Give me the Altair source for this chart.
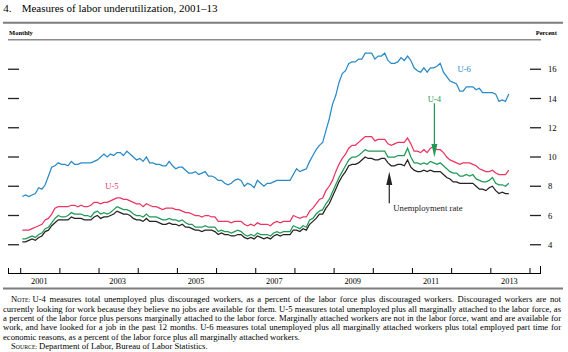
import altair as alt
import pandas as pd

# ---------------- data (monthly, Jan 2001 - Jun 2013) ----------------
u3 = [4.2, 4.2, 4.3, 4.4, 4.3, 4.5, 4.6, 4.9, 5.0, 5.3, 5.5, 5.7,
      5.7, 5.7, 5.7, 5.9, 5.8, 5.8, 5.8, 5.7, 5.7, 5.7, 5.9, 6.0,
      5.8, 5.9, 5.9, 6.0, 6.1, 6.3, 6.2, 6.1, 6.1, 6.0, 5.8, 5.7,
      5.7, 5.6, 5.8, 5.6, 5.6, 5.6, 5.5, 5.4, 5.4, 5.5, 5.4, 5.4,
      5.3, 5.4, 5.2, 5.2, 5.1, 5.0, 5.0, 4.9, 5.0, 5.0, 5.0, 4.9,
      4.7, 4.8, 4.7, 4.7, 4.6, 4.6, 4.7, 4.7, 4.5, 4.4, 4.5, 4.4,
      4.6, 4.5, 4.4, 4.5, 4.4, 4.6, 4.7, 4.6, 4.7, 4.7, 4.7, 5.0,
      5.0, 4.9, 5.1, 5.0, 5.4, 5.6, 5.8, 6.1, 6.1, 6.5, 6.8, 7.3,
      7.8, 8.3, 8.7, 9.0, 9.4, 9.5, 9.5, 9.6, 9.8, 10.0, 9.9, 9.9,
      9.8, 9.8, 9.9, 9.9, 9.6, 9.4, 9.4, 9.5, 9.5, 9.4, 9.8, 9.3,
      9.1, 9.0, 9.0, 9.1, 9.0, 9.1, 9.0, 9.0, 9.0, 8.8, 8.6, 8.5,
      8.3, 8.3, 8.2, 8.2, 8.2, 8.2, 8.2, 8.0, 7.8, 7.8, 7.7, 7.9,
      8.0, 7.7, 7.5, 7.6, 7.5, 7.5]
u4 = [4.4, 4.4, 4.5, 4.6, 4.5, 4.7, 4.8, 5.1, 5.2, 5.5, 5.8, 6.0,
      5.9, 5.9, 6.0, 6.2, 6.1, 6.1, 6.1, 6.0, 6.0, 5.9, 6.2, 6.3,
      6.1, 6.2, 6.1, 6.2, 6.4, 6.6, 6.5, 6.4, 6.4, 6.3, 6.1, 6.0,
      6.0, 5.9, 6.1, 5.9, 5.9, 5.9, 5.8, 5.7, 5.7, 5.8, 5.7, 5.7,
      5.6, 5.7, 5.5, 5.4, 5.4, 5.2, 5.2, 5.2, 5.3, 5.2, 5.2, 5.2,
      4.9, 5.0, 4.9, 4.9, 4.8, 4.9, 5.0, 4.9, 4.7, 4.6, 4.7, 4.6,
      4.8, 4.7, 4.7, 4.7, 4.6, 4.8, 4.9, 4.8, 4.9, 4.9, 4.9, 5.3,
      5.2, 5.1, 5.3, 5.2, 5.7, 5.8, 6.1, 6.3, 6.4, 6.8, 7.1, 7.6,
      8.1, 8.6, 9.0, 9.4, 9.8, 10.0, 10.0, 10.1, 10.3, 10.5, 10.4, 10.4,
      10.4, 10.4, 10.4, 10.4, 10.0, 10.0, 10.0, 10.1, 10.1, 10.1, 10.6, 10.0,
      9.6, 9.6, 9.5, 9.6, 9.5, 9.7, 9.6, 9.5, 9.6, 9.4, 9.2, 9.0,
      8.9, 8.9, 8.7, 8.7, 8.8, 8.7, 8.8, 8.5, 8.4, 8.3, 8.3, 8.4,
      8.6, 8.2, 8.1, 8.1, 8.0, 8.2]
u5 = [5.0, 5.0, 5.0, 5.1, 5.2, 5.3, 5.4, 5.7, 5.8, 6.1, 6.5, 6.6,
      6.6, 6.6, 6.6, 6.7, 6.7, 6.6, 6.7, 6.6, 6.6, 6.7, 6.9, 6.9,
      6.8, 6.9, 6.9, 7.0, 7.1, 7.2, 7.2, 7.1, 7.1, 7.0, 6.9, 6.8,
      6.8, 6.6, 6.8, 6.7, 6.6, 6.6, 6.5, 6.4, 6.5, 6.5, 6.5, 6.4,
      6.4, 6.3, 6.2, 6.2, 6.1, 6.0, 6.0, 5.9, 6.0, 6.0, 5.9, 5.9,
      5.6, 5.6, 5.6, 5.6, 5.5, 5.6, 5.6, 5.6, 5.4, 5.3, 5.4, 5.3,
      5.5, 5.4, 5.4, 5.4, 5.3, 5.5, 5.6, 5.5, 5.6, 5.6, 5.6, 6.0,
      5.9, 5.8, 5.9, 5.9, 6.3, 6.5, 6.8, 7.1, 7.2, 7.7, 8.0, 8.4,
      9.0, 9.5, 9.9, 10.2, 10.6, 10.8, 10.8, 11.0, 11.2, 11.4, 11.4, 11.4,
      11.1, 11.2, 11.2, 11.2, 10.9, 10.8, 10.9, 11.0, 11.0, 11.0, 11.3, 10.9,
      10.4, 10.4, 10.3, 10.5, 10.3, 10.6, 10.7, 10.5, 10.5, 10.3, 10.0, 9.8,
      9.7, 9.6, 9.5, 9.6, 9.6, 9.6, 9.5, 9.4, 9.2, 9.1, 9.0, 9.0,
      9.1, 8.9, 8.8, 8.8, 8.8, 9.1]
u6 = [7.3, 7.4, 7.3, 7.4, 7.5, 7.9, 7.8, 8.1, 8.7, 9.3, 9.4, 9.6,
      9.5, 9.5, 9.4, 9.7, 9.5, 9.5, 9.6, 9.6, 9.6, 9.6, 9.7, 9.8,
      10.0, 10.2, 10.0, 10.2, 10.1, 10.3, 10.3, 10.1, 10.4, 10.2, 10.0, 9.8,
      9.9, 9.7, 10.0, 9.6, 9.6, 9.5, 9.5, 9.4, 9.4, 9.7, 9.4, 9.2,
      9.3, 9.3, 9.1, 8.9, 8.9, 9.0, 8.8, 8.9, 9.0, 8.7, 8.7, 8.6,
      8.4, 8.4, 8.2, 8.1, 8.2, 8.4, 8.5, 8.4, 8.0, 8.2, 8.1, 7.9,
      8.4, 8.2, 8.0, 8.2, 8.2, 8.3, 8.4, 8.4, 8.4, 8.4, 8.4, 8.8,
      9.2, 9.0, 9.1, 9.2, 9.7, 10.1, 10.5, 10.8, 11.0, 11.8, 12.6, 13.6,
      14.2, 15.1, 15.7, 15.9, 16.4, 16.5, 16.5, 16.7, 16.7, 17.1, 17.1, 17.1,
      16.7, 16.9, 16.9, 17.1, 16.6, 16.4, 16.4, 16.5, 16.8, 16.6, 16.9, 16.6,
      16.1, 15.9, 15.8, 16.1, 15.8, 16.1, 16.1, 16.2, 16.4, 15.8, 15.5, 15.2,
      15.1, 15.0, 14.5, 14.5, 14.8, 14.8, 14.8, 14.6, 14.7, 14.4, 14.4, 14.4,
      14.4, 14.3, 13.8, 13.9, 13.8, 14.3]

series_names = ["U-6", "U-5", "U-4", "Unemployment rate"]
series_values = [u6, u5, u4, u3]
series_colors = ["#2a8ac6", "#ea3560", "#1f9a55", "#262223"]

y_tick_values = [4, 6, 8, 10, 12, 14, 16]
year_ticks = list(range(2001, 2015))
year_labels = [2001, 2003, 2005, 2007, 2009, 2011, 2013]

# annotation labels (data coordinates: decimal year, percent)
ann_text = ["U-6", "U-4", "U-5"]
ann_t = [2012.32, 2011.56, 2003.33]
ann_v = [16.0, 13.97, 8.04]
ann_col = [series_colors[0], series_colors[2], series_colors[1]]

title_text = "Measures of labor underutilization, 2001\u201313"
note_rest1 = ("U-4 measures total unemployed plus discouraged workers, as a percent of the labor "
              "force plus discouraged workers. Discouraged workers are not")
note_lines = [
    "currently looking for work because they believe no jobs are available for them. U-5 measures "
    "total unemployed plus all marginally attached to the labor force, as",
    "a percent of the labor force plus persons marginally attached to the labor force. Marginally "
    "attached workers are not in the labor force, want and are available for",
    "work, and have looked for a job in the past 12 months. U-6 measures total unemployed plus all "
    "marginally attached workers plus total employed part time for",
    "economic reasons, as a percent of the labor force plus all marginally attached workers.",
]
source_rest = "Department of Labor, Bureau of Labor Statistics."

# ---------------- build ----------------
rows = []
for name, vals in zip(series_names, series_values):
    for i, v in enumerate(vals):
        rows.append({"t": 2001 + (i + 0.5) / 12.0, "v": v, "s": name})
df = pd.DataFrame(rows)

W, H = 533, 234
FONT = "Liberation Serif"
xs = alt.Scale(domain=[2000.676, 2014.281], nice=False, zero=False)
ys = alt.Scale(domain=[2, 18], nice=False, zero=False)
cs = alt.Scale(domain=series_names, range=series_colors)
one = pd.DataFrame({"a": [0]})

X = lambda f="t:Q": alt.X(f, scale=xs, axis=None)
Y = lambda f="v:Q": alt.Y(f, scale=ys, axis=None)

lines = alt.Chart(df).mark_line(strokeWidth=1.25).encode(
    x=X(), y=Y(), color=alt.Color("s:N", scale=cs, legend=None), detail="s:N")

yt = pd.DataFrame({"v": y_tick_values})
ytick_l = alt.Chart(yt).mark_rule(color="#222", strokeWidth=1.3).encode(
    y=Y(), x=alt.value(0), x2=alt.value(11))
ytick_r = alt.Chart(yt).mark_rule(color="#222", strokeWidth=1.3).encode(
    y=Y(), x=alt.value(W - 11), x2=alt.value(W))
ylab = alt.Chart(yt).mark_text(font=FONT, fontSize=8.6, align="left", baseline="middle",
                               color="#000").encode(
    y=Y(), x=alt.value(W + 7), text="v:Q")

xt = pd.DataFrame({"t": year_ticks})
xticks = alt.Chart(xt).mark_rule(color="#000", strokeWidth=1).encode(
    x=X(), y=alt.value(H), y2=alt.value(H - 6))
xl = pd.DataFrame({"t": [y + 0.5 for y in year_labels], "lab": [str(y) for y in year_labels]})
xlab = alt.Chart(xl).mark_text(font=FONT, fontSize=8.3, align="center", baseline="middle",
                               color="#000", dx=-1).encode(
    x=X(), y=alt.value(H + 7.5), text="lab:N")
xbase = alt.Chart(one).mark_rule(color="#000", strokeWidth=1).encode(
    x=alt.value(0), x2=alt.value(W), y=alt.value(H - 0.5))
xend_l = alt.Chart(one).mark_rule(color="#000", strokeWidth=1).encode(
    x=alt.value(0.5), y=alt.value(H), y2=alt.value(H - 6))
xend_r = alt.Chart(one).mark_rule(color="#000", strokeWidth=1).encode(
    x=alt.value(W - 0.5), y=alt.value(H), y2=alt.value(H - 8))

rule_top = alt.Chart(one).mark_rule(color="#7d7d7d", strokeWidth=2).encode(
    x=alt.value(-5), x2=alt.value(555), y=alt.value(-17.3))
rule_plot = alt.Chart(one).mark_rule(color="#8c8c8c", strokeWidth=1.5).encode(
    x=alt.value(0), x2=alt.value(W), y=alt.value(-0.3))
rule_bot = alt.Chart(one).mark_rule(color="#7d7d7d", strokeWidth=2).encode(
    x=alt.value(-5), x2=alt.value(555), y=alt.value(248.5))

layers = [lines, ytick_l, ytick_r, ylab, xticks, xlab, xbase, xend_l, xend_r,
          rule_top, rule_plot, rule_bot]

# series labels
for txt_, t, v, c in zip(ann_text, ann_t, ann_v, ann_col):
    d = pd.DataFrame({"t": [t], "v": [v], "label": [txt_]})
    layers.append(alt.Chart(d).mark_text(font=FONT, fontSize=8.6, color=c,
                                         align="center", baseline="middle").encode(
        x=X(), y=Y(), text="label:N"))

d = pd.DataFrame({"t": [2010.51], "v": [6.5], "label": ["Unemployment rate"]})
layers.append(alt.Chart(d).mark_text(font=FONT, fontSize=8.7, color="#1a1a1a",
                                     align="left", baseline="middle").encode(
    x=X(), y=Y(), text="label:N"))

# arrows
arr = pd.DataFrame({"t": [2011.56, 2010.408], "v": [13.67, 6.83], "v2": [10.6, 8.45],
                    "s": ["U-4", "Unemployment rate"]})
layers.append(alt.Chart(arr).mark_rule(strokeWidth=1.2).encode(
    x=X(), y=Y(), y2="v2:Q", color=alt.Color("s:N", scale=cs, legend=None)))
head_dn = pd.DataFrame({"t": [2011.56], "v": [10.43]})
layers.append(alt.Chart(head_dn).mark_point(
    shape="M -0.45 -1 L 0.45 -1 L 0 1 Z", filled=True, size=177, opacity=1,
    color=series_colors[2], strokeWidth=0).encode(x=X(), y=Y()))
head_up = pd.DataFrame({"t": [2010.408], "v": [8.54]})
layers.append(alt.Chart(head_up).mark_point(
    shape="M -0.45 1 L 0.45 1 L 0 -1 Z", filled=True, size=177, opacity=1,
    color=series_colors[3], strokeWidth=0).encode(x=X(), y=Y()))


def txt(s, x, y, size, bold=False, align="left", color="#000"):
    return alt.Chart(one).mark_text(font=FONT, fontSize=size, align=align,
                                    baseline="middle", color=color,
                                    fontWeight="bold" if bold else "normal").encode(
        x=alt.value(x), y=alt.value(y), text=alt.value(s))


# Times metrics (per 1000 em) used to justify the note lines
_lw = dict(zip("abcdefghijklmnopqrstuvwxyz",
               [444, 500, 444, 500, 444, 333, 500, 500, 278, 278, 500, 278, 778, 500,
                500, 500, 500, 333, 389, 278, 500, 500, 722, 500, 500, 444]))
_uw = dict(zip("ABCDEFGHIJKLMNOPQRSTUVWXYZ",
               [722, 667, 667, 722, 611, 556, 722, 722, 333, 389, 722, 611, 889, 722,
                722, 556, 722, 667, 556, 611, 722, 722, 944, 722, 722, 611]))
_pw = {" ": 250, ",": 250, ".": 250, "-": 333, ":": 278}


def tw(s, size):
    return sum(_lw.get(c, _uw.get(c, _pw.get(c, 500))) for c in s) * size / 1000.0


def justified(s, x0, x1, y, size):
    words = s.split(" ")
    total = sum(tw(w, size) for w in words)
    gap = (x1 - x0 - total) / (len(words) - 1)
    recs, x = [], x0
    for w in words:
        recs.append({"w": w, "px": x, "py": y})
        x += tw(w, size) + gap
    return alt.Chart(pd.DataFrame(recs)).mark_text(
        font=FONT, fontSize=size, align="left", baseline="middle", color="#000").encode(
        x=alt.X("px:Q", scale=None, axis=None), y=alt.Y("py:Q", scale=None, axis=None),
        text="w:N")


OX, OY = 8, 40
layers.append(txt("4.", 3.3 - OX, 8.8 - OY, 11))
layers.append(txt(title_text, 21.7 - OX, 8.8 - OY, 11))
layers.append(txt("Monthly", 9 - OX, 33.3 - OY, 6.5, bold=True))
layers.append(txt("Percent", 535.7 - OX, 33.3 - OY, 6.5, bold=True))

NF, SC = 8.6, 5.8
ly0, dly = 299.2, 9.36
RIGHT = 561
layers.append(txt("N", 11 - OX, ly0 - OY, NF))
layers.append(txt("OTE:", 17.2 - OX, ly0 - OY + 0.6, SC))
layers.append(justified(note_rest1, 32.5 - OX, RIGHT - OX, ly0 - OY, NF))
for k, s in enumerate(note_lines):
    yk = ly0 + dly * (k + 1) - OY
    if k < 3:
        layers.append(justified(s, 3 - OX, RIGHT - OX, yk, NF))
    else:
        layers.append(txt(s, 3 - OX, yk, NF))
yS = ly0 + dly * 5 - OY
layers.append(txt("S", 11 - OX, yS, NF))
layers.append(txt("OURCE:", 15.8 - OX, yS + 0.6, SC))
layers.append(txt(source_rest, 39 - OX, yS, NF))

chart = alt.layer(*layers).properties(
    width=W, height=H,
    autosize=alt.AutoSizeParams(type="none"),
    padding={"left": OX, "top": OY, "right": 568 - OX - W, "bottom": 352 - OY - H},
    background="white",
).configure_view(stroke=None)

chart.save("out.html", embed_options={"renderer": "svg", "actions": False})
